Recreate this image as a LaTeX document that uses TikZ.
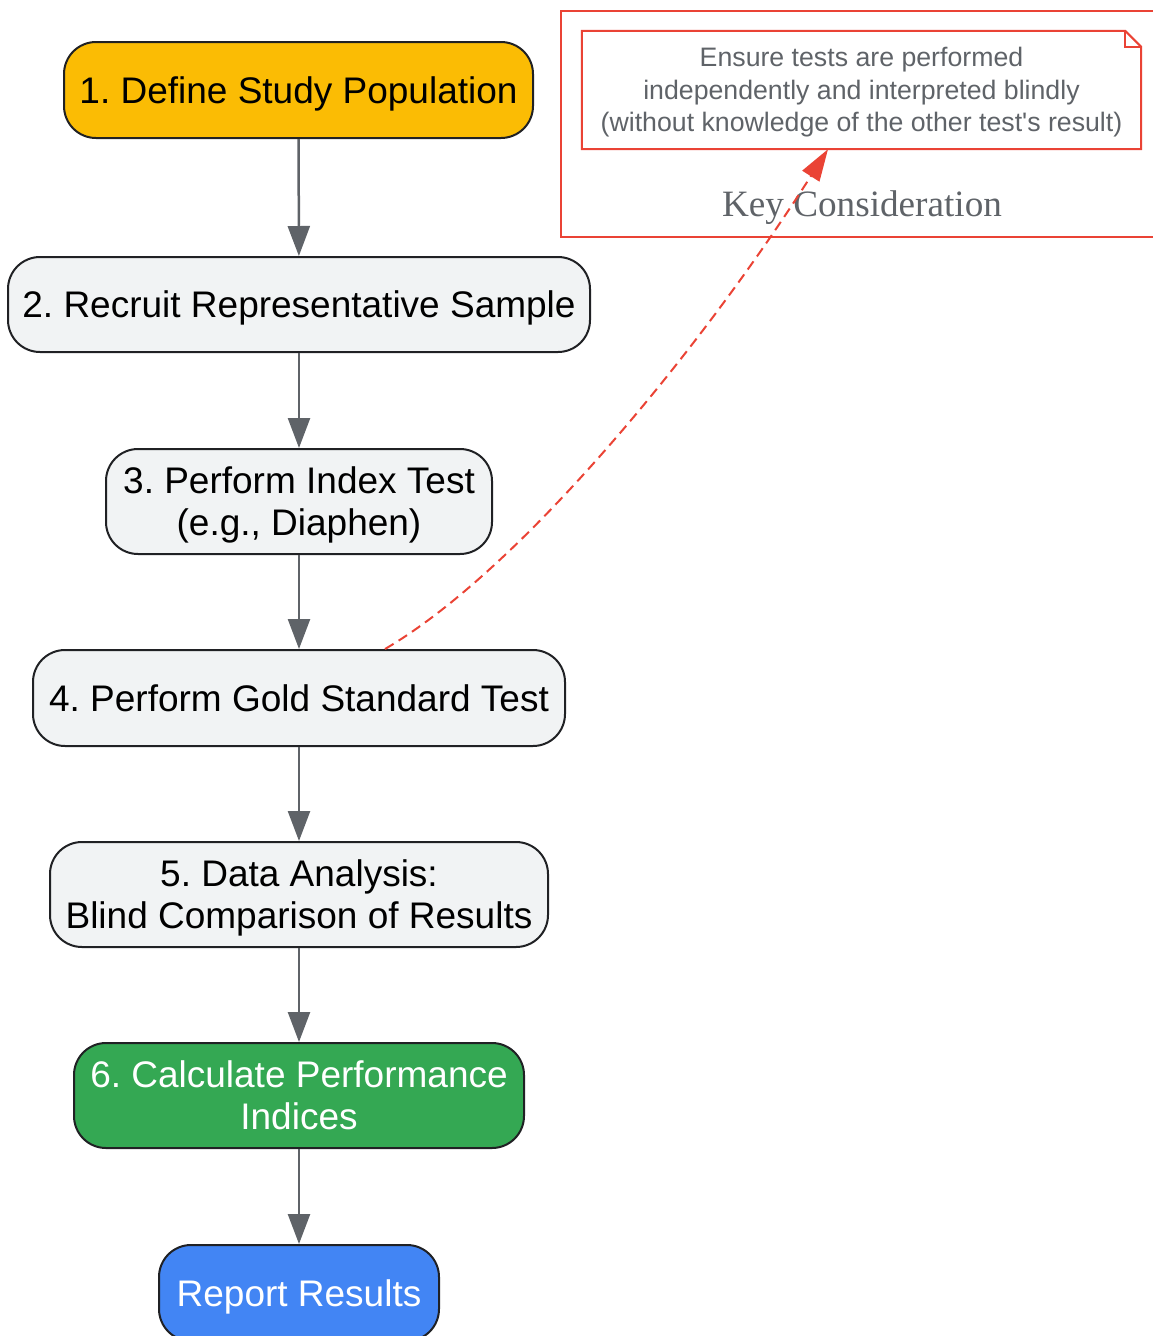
\documentclass[tikz,border=0pt]{standalone}
\usepackage{fontspec}
\setmainfont{Liberation Sans}
\newfontfamily\serifkey{Liberation Serif}
\usetikzlibrary{arrows.meta,calc}
\frenchspacing
\definecolor{cyellow}{HTML}{FBBC04}
\definecolor{cgrayfill}{HTML}{F1F3F4}
\definecolor{cgreen}{HTML}{34A853}
\definecolor{cblue}{HTML}{4285F4}
\definecolor{cred}{HTML}{EA4335}
\definecolor{ctext}{HTML}{5F6368}
\definecolor{cborder}{HTML}{202124}
\definecolor{carrow}{HTML}{5F6368}
\newcommand{\stxt}[1]{\raisebox{-5pt}[\height][\depth]{\begin{tabular}{@{}c@{}}#1\end{tabular}}}
\tikzset{
  stepbox/.style={draw=cborder, line width=2pt, rounded corners=32pt, align=center,
    font=\fontsize{37}{42}\selectfont, inner sep=0pt, fill=cgrayfill, text=black},
  flow/.style={draw=carrow, line width=2.5pt, -{Triangle[length=30pt,width=22pt]}},
  notelink/.style={draw=cred, line width=2pt, dash pattern=on 10pt off 6pt,
    -{Triangle[length=32pt,width=20pt]}},
}
\begin{document}
\begin{tikzpicture}[x=1pt,y=-1pt]
\useasboundingbox (0,0) rectangle (1153,1336);
\begin{scope}
\clip (0,0) rectangle (1153,1336);
% cluster
\node[draw=cred, line width=2pt, minimum width=600pt, minimum height=226pt, anchor=north west, inner sep=0pt] (cluster) at (560,10) {};
\node[font=\serifkey\fontsize{37.2}{40}\selectfont, text=ctext] (keylabel) at (862,208) {Key Consideration};
% note
\node[minimum width=559pt, minimum height=118pt, inner sep=0pt] (note) at (861.5,90) {};
\node[inner sep=0pt, align=center, text=ctext, font=\fontsize{26.7}{32.5}\selectfont] (notetext) at (861.5,92.5)
  {Ensure tests are performed\\independently and interpreted blindly\\(without knowledge of the other test\textquotesingle s result)};
\draw[cred, line width=2pt, line join=miter]
  (note.north west) -- ($(note.north east)+(-16,0)$) -- ($(note.north east)+(0,16)$) -- (note.south east) -- (note.south west) -- cycle;
\draw[cred, line width=2pt] ($(note.north east)+(-16,0)$) -- ($(note.north east)+(-16,16)$) -- ($(note.north east)+(0,16)$);
% steps
\node[stepbox, fill=cyellow, minimum width=469pt, minimum height=96pt] (n1) at (298.5,90) {\stxt{1. Define Study Population}};
\node[stepbox, minimum width=582pt, minimum height=95pt] (n2) at (299,304.5) {\stxt{2. Recruit Representative Sample}};
\node[stepbox, minimum width=386pt, minimum height=105pt] (n3) at (299,501.5) {\stxt{3. Perform Index Test\\(e.g., Diaphen)}};
\node[stepbox, minimum width=532pt, minimum height=96pt] (n4) at (299,698) {\stxt{4. Perform Gold Standard Test}};
\node[stepbox, minimum width=498pt, minimum height=105pt] (n5) at (299,894.5) {\stxt{5. Data Analysis:\\Blind Comparison of Results}};
\node[stepbox, fill=cgreen, text=white, minimum width=450pt, minimum height=105pt] (n6) at (299,1095.5) {\stxt{6. Calculate Performance\\Indices}};
\node[stepbox, fill=cblue, text=white, minimum width=280pt, minimum height=96pt] (n7) at (299,1293) {\stxt{Report Results}};
% flow
\draw[flow] (n1) -- (n2);
\draw[flow] (n2) -- (n3);
\draw[flow] (n3) -- (n4);
\draw[flow] (n4) -- (n5);
\draw[flow] (n5) -- (n6);
\draw[flow] (n6) -- (n7);
% dashed link
\coordinate (linkstart) at ($(n4.north)+(86,0)$);
\coordinate (linkend) at ($(note.south)+(-33.5,0)$);
\draw[notelink] (linkstart) .. controls (520,570) and (700,350) .. (linkend);
\end{scope}
\end{tikzpicture}
\end{document}
